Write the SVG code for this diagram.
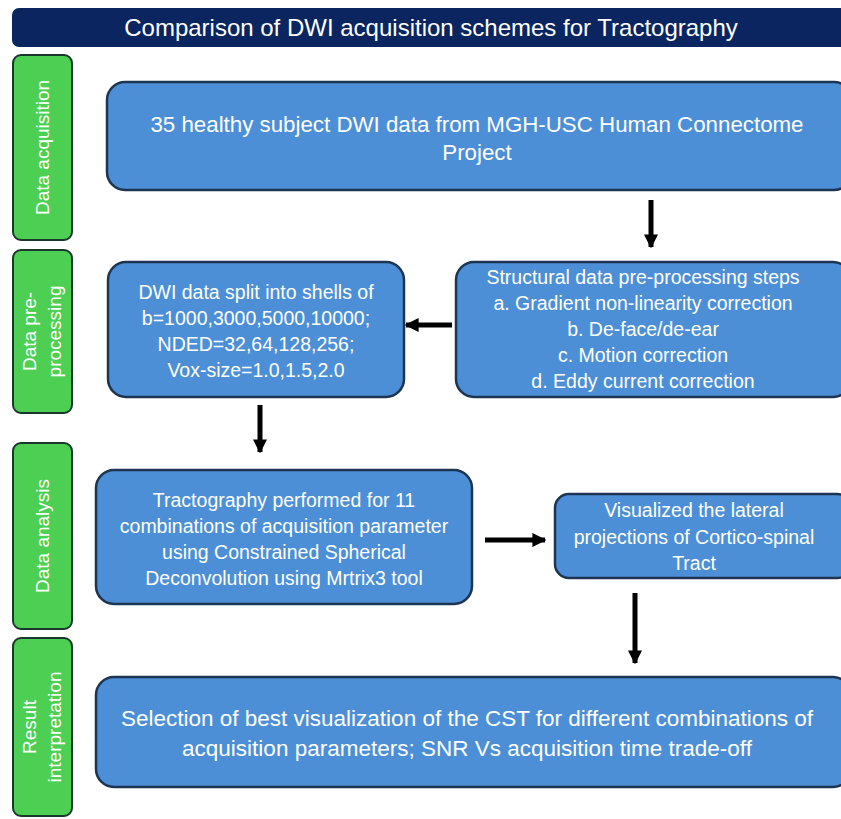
<svg xmlns="http://www.w3.org/2000/svg" width="841" height="819" viewBox="0 0 841 819">
<defs>
<style>
.stage{fill:#4CCF52;stroke:#17382A;stroke-width:2}
.stext{fill:#fff;font-family:"Liberation Sans",Arial,sans-serif;font-size:19px;text-anchor:middle}
.box{fill:#4C8FD6;stroke:#1C3553;stroke-width:2.5}
.btext{fill:#fff;font-family:"Liberation Sans",Arial,sans-serif;text-anchor:middle}
.arr{stroke:#000;stroke-width:5;fill:none;marker-end:url(#ah)}
</style>
<marker id="ah" viewBox="0 0 10 10" refX="9" refY="5" markerWidth="2.8" markerHeight="2.8" orient="auto" markerUnits="strokeWidth">
<path d="M0,0 L10,5 L0,10 z" fill="#000"/>
</marker>
</defs>
<rect width="841" height="819" fill="#fff"/>
<g id="title">
<rect x="12" y="8" width="840" height="39" rx="7" fill="#0A2560"/>
<text x="431" y="36" class="btext" font-size="24">Comparison of DWI acquisition schemes for Tractography</text>
</g>
<g id="stage-acq">
<rect class="stage" x="13" y="55" width="59" height="185" rx="8"/>
<text class="stext" transform="translate(49,147.5) rotate(-90)">Data acquisition</text>
</g>
<g id="stage-pre">
<rect class="stage" x="13" y="250" width="59" height="163" rx="8"/>
<text class="stext" transform="translate(36,331.5) rotate(-90)">Data pre-</text>
<text class="stext" transform="translate(61,331.5) rotate(-90)">processing</text>
</g>
<g id="stage-ana">
<rect class="stage" x="13" y="443" width="59" height="186" rx="8"/>
<text class="stext" transform="translate(49,536) rotate(-90)">Data analysis</text>
</g>
<g id="stage-res">
<rect class="stage" x="13" y="638" width="59" height="178" rx="8"/>
<text class="stext" transform="translate(36,727) rotate(-90)">Result</text>
<text class="stext" transform="translate(61,727) rotate(-90)">interpretation</text>
</g>
<g id="n1">
<rect class="box" x="107" y="82" width="745" height="108" rx="18"/>
<text class="btext" font-size="22.3" x="477" y="132">35 healthy subject DWI data from MGH-USC Human Connectome</text>
<text class="btext" font-size="22.3" x="477" y="160">Project</text>
</g>
<g id="n2">
<rect class="box" x="456" y="262" width="395" height="135" rx="18"/>
<g class="btext" font-size="19.5">
<text x="643" y="284">Structural data pre-processing steps</text>
<text x="643" y="310">a. Gradient non-linearity correction</text>
<text x="643" y="336">b. De-face/de-ear</text>
<text x="643" y="362">c. Motion correction</text>
<text x="643" y="388">d. Eddy current correction</text>
</g>
</g>
<g id="n3">
<rect class="box" x="108" y="262" width="296" height="135" rx="18"/>
<g class="btext" font-size="19.5">
<text x="256" y="299">DWI data split into shells of</text>
<text x="256" y="325">b=1000,3000,5000,10000;</text>
<text x="256" y="351">NDED=32,64,128,256;</text>
<text x="256" y="377">Vox-size=1.0,1.5,2.0</text>
</g>
</g>
<g id="n4">
<rect class="box" x="96" y="470" width="376" height="134" rx="18"/>
<g class="btext" font-size="19.5">
<text x="284" y="507">Tractography performed for 11</text>
<text x="284" y="533">combinations of acquisition parameter</text>
<text x="284" y="559">using Constrained Spherical</text>
<text x="284" y="585">Deconvolution using Mrtrix3 tool</text>
</g>
</g>
<g id="n5">
<rect class="box" x="555" y="494" width="296" height="84" rx="14"/>
<g class="btext" font-size="19.5">
<text x="694" y="517">Visualized the lateral</text>
<text x="694" y="544">projections of Cortico-spinal</text>
<text x="694" y="570">Tract</text>
</g>
</g>
<g id="n6">
<rect class="box" x="96" y="677" width="755" height="110" rx="18"/>
<text class="btext" font-size="22.5" x="467" y="726">Selection of best visualization of the CST for different combinations of</text>
<text class="btext" font-size="22.5" x="467" y="756">acquisition parameters; SNR Vs acquisition time trade-off</text>
</g>
<g id="connectors">
<line class="arr" x1="651" y1="200" x2="651" y2="247"/>
<line class="arr" x1="452" y1="325" x2="406" y2="325"/>
<line class="arr" x1="260" y1="405" x2="260" y2="452"/>
<line class="arr" x1="485" y1="540" x2="545" y2="540"/>
<line class="arr" x1="635" y1="593" x2="635" y2="663"/>
</g>
</svg>
